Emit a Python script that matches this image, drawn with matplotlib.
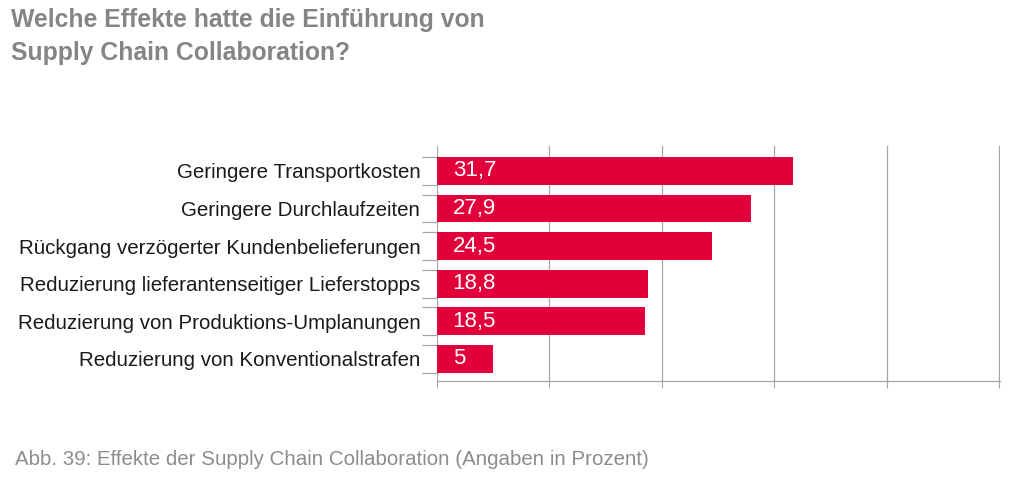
import numpy as np
import matplotlib
matplotlib.use('Agg')
import matplotlib.pyplot as plt

# data (percent)
categories = ['Geringere Transportkosten',
              'Geringere Durchlaufzeiten',
              'Rückgang verzögerter Kundenbelieferungen',
              'Reduzierung lieferantenseitiger Lieferstopps',
              'Reduzierung von Produktions-Umplanungen',
              'Reduzierung von Konventionalstrafen']
values = [31.7, 27.9, 24.5, 18.8, 18.5, 5]
value_labels = ['31,7', '27,9', '24,5', '18,8', '18,5', '5']
xticks = [0, 10, 20, 30, 40, 50]
title_lines = ['Welche Effekte hatte die Einführung von',
               'Supply Chain Collaboration?']
caption = 'Abb. 39: Effekte der Supply Chain Collaboration (Angaben in Prozent)'

red = '#e2003a'
grid_grey = '#a6a6a6'
title_grey = '#858585'

plt.rcParams['font.family'] = ['Liberation Sans', 'DejaVu Sans']

fig = plt.figure(figsize=(10.21, 4.82), dpi=100)
ax = fig.add_axes([0.428, 0.2102, 0.5514, 0.4875])

n = len(categories)
ypos = np.arange(n)[::-1]
bh = 0.74
ax.barh(ypos, values, height=bh, color=red, zorder=3)
for y, v, lab in zip(ypos, values, value_labels):
    ax.text(1.4, y, lab, color='white', fontsize=16, va='center', ha='left', zorder=4)

ax.set_xlim(0, 50.08)
ax.set_ylim(-0.58, n - 1 + 0.67)
ax.set_xticks(xticks)
ax.set_xticklabels([])
ax.tick_params(axis='x', length=5, color=grid_grey, direction='out')
ax.xaxis.grid(True, color=grid_grey, linewidth=0.9, zorder=0)

ax.set_yticks(ypos)
ax.set_yticklabels(categories, fontsize=14.8, color='#1a1a1a')
ax.tick_params(axis='y', length=0, pad=12)
# small ticks at the bar edges, left of the axis
edges = np.concatenate([ypos - bh / 2, ypos + bh / 2])
ax.set_yticks(edges, minor=True)
ax.tick_params(axis='y', which='minor', length=11, color=grid_grey, width=0.9)

for s in ['top', 'right', 'left']:
    ax.spines[s].set_visible(False)
ax.spines['bottom'].set_color(grid_grey)
ax.spines['bottom'].set_linewidth(0.9)

fig.text(0.011, 0.944, title_lines[0], fontsize=17.8, fontweight='bold',
         color=title_grey, va='baseline', ha='left')
fig.text(0.011, 0.8755, title_lines[1], fontsize=17.8, fontweight='bold',
         color=title_grey, va='baseline', ha='left')
fig.text(0.015, 0.0353, caption, fontsize=14.8, color='#8c8c8c',
         va='baseline', ha='left')

plt.savefig('out.png', dpi=100)
